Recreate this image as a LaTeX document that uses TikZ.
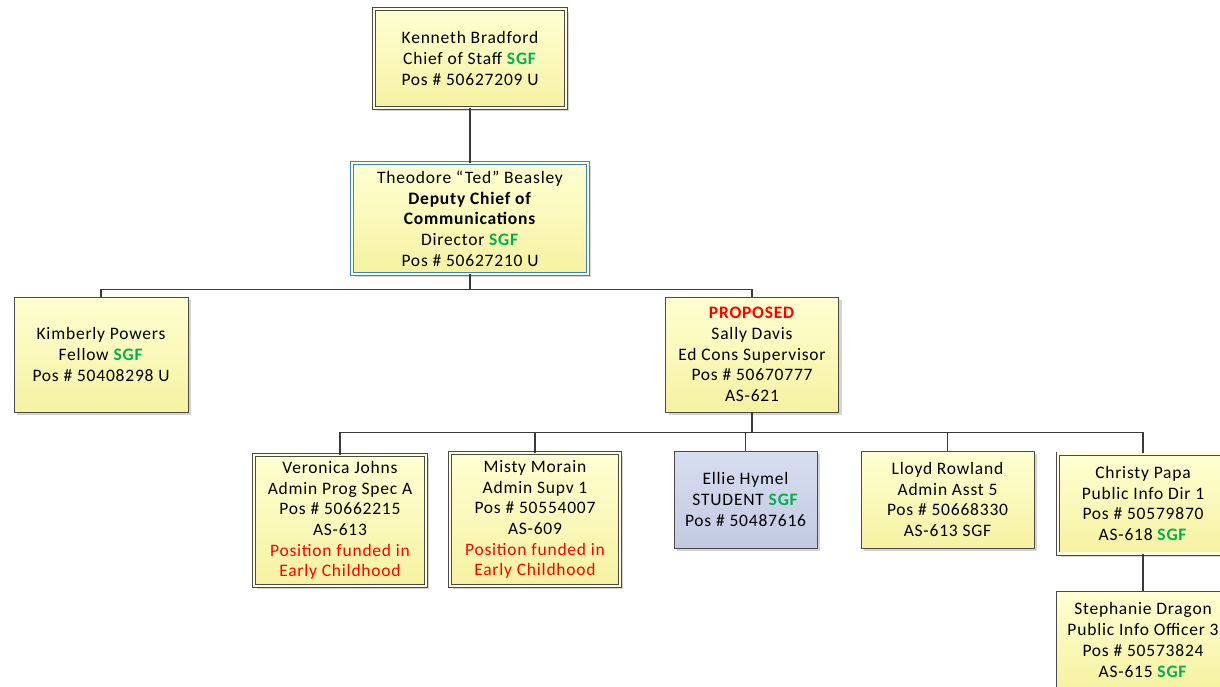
\documentclass[tikz,border=0pt]{standalone}
\usepackage{fontspec}
\setmainfont[LetterSpace=4.5]{Carlito}
\usetikzlibrary{shadows}
\definecolor{boxtop}{HTML}{FFFFD2}
\definecolor{boxbot}{HTML}{F6F2A2}
\definecolor{bluetop}{HTML}{D8DEF0}
\definecolor{bluebot}{HTML}{C2CAE3}
\definecolor{edge}{HTML}{4A4A4A}
\definecolor{link}{HTML}{3A3A3A}
\definecolor{sgfgreen}{HTML}{00B050}
\definecolor{propred}{HTML}{FF0000}
\definecolor{dirblue}{HTML}{3A86B8}
\newcommand{\sgf}{\textcolor{sgfgreen}{\textbf{SGF}}}
\newcommand{\funded}{\textcolor{propred}{Position funded in}\\\textcolor{propred}{Early Childhood}}
\tikzset{
  card/.style={draw=edge, line width=0.9pt, top color=boxtop, bottom color=boxbot,
    align=center, inner sep=0pt,
    font=\fontsize{17.5}{20.7}\selectfont,
    execute at begin node={\rule{0pt}{19pt}},
    drop shadow={shadow xshift=3pt, shadow yshift=-3pt, opacity=0.28, fill=black!60}},
  dcard/.style={card, double=boxtop!70!white, double distance=2.4pt, line width=0.8pt},
  bluecard/.style={card, top color=bluetop, bottom color=bluebot},
  dircard/.style={dcard, draw=dirblue},
  link/.style={draw=link, line width=1.8pt}
}
\begin{document}
\begin{tikzpicture}[x=1pt, y=-1pt]
\useasboundingbox (0,0) rectangle (1220,686);
\clip (0,0) rectangle (1220,686);
\fill[white] (0,0) rectangle (1220,686);

% top of the chain
\node[dcard, minimum width=192pt, minimum height=99pt] (kb) at (470,58.5)
  {Kenneth Bradford\\Chief of Staff \sgf\\Pos \# 50627209 U};
\node[dircard, minimum width=236pt, minimum height=111pt] (tb) at (470,218.5)
  {Theodore “Ted” Beasley\\\textbf{Deputy Chief of}\\\textbf{Communications}\\Director \sgf\\Pos \# 50627210 U};

% second level
\node[card, minimum width=174pt, minimum height=115pt] (kp) at (101,354.5)
  {Kimberly Powers\\Fellow \sgf\\Pos \# 50408298 U};
\node[card, minimum width=173pt, minimum height=115pt] (sd) at (752,354.5)
  {\textcolor{propred}{\textbf{PROPOSED}}\\Sally Davis\\Ed Cons Supervisor\\Pos \# 50670777\\AS-621};

% third level
\node[dcard, minimum width=172pt, minimum height=131pt] (vj) at (340,520.5)
  {Veronica Johns\\Admin Prog Spec A\\Pos \# 50662215\\AS-613\\\funded};
\node[dcard, minimum width=170pt, minimum height=133pt] (mm) at (535,519.5)
  {Misty Morain\\Admin Supv 1\\Pos \# 50554007\\AS-609\\\funded};
\node[bluecard, minimum width=143pt, minimum height=97pt] (eh) at (745.5,499.5)
  {Ellie Hymel\\STUDENT \sgf\\Pos \# 50487616};
\node[card, minimum width=173pt, minimum height=97pt] (lr) at (947.5,499.5)
  {Lloyd Rowland\\Admin Asst 5\\Pos \# 50668330\\AS-613 SGF};
\node[dcard, minimum width=170pt, minimum height=100pt] (cp) at (1143,503.5)
  {Christy Papa\\Public Info Dir 1\\Pos \# 50579870\\AS-618 \sgf};
\node[card, minimum width=174pt, minimum height=98pt] (sdr) at (1143,640)
  {Stephanie Dragon\\Public Info Officer 3\\Pos \# 50573824\\AS-615 \sgf};

% reporting lines
\draw[link] (kb.south) -- (tb.north);
\draw[link] (tb.south) -- ++(0,15) -| (kp.north);
\draw[link] (tb.south) -- ++(0,15) -| (sd.north);
\foreach \c in {vj,mm,eh,lr,cp}
  \draw[link] (sd.south) -- ++(0,20) -| (\c.north);
\draw[link] (cp.south) -- (sdr.north);
\end{tikzpicture}
\end{document}
